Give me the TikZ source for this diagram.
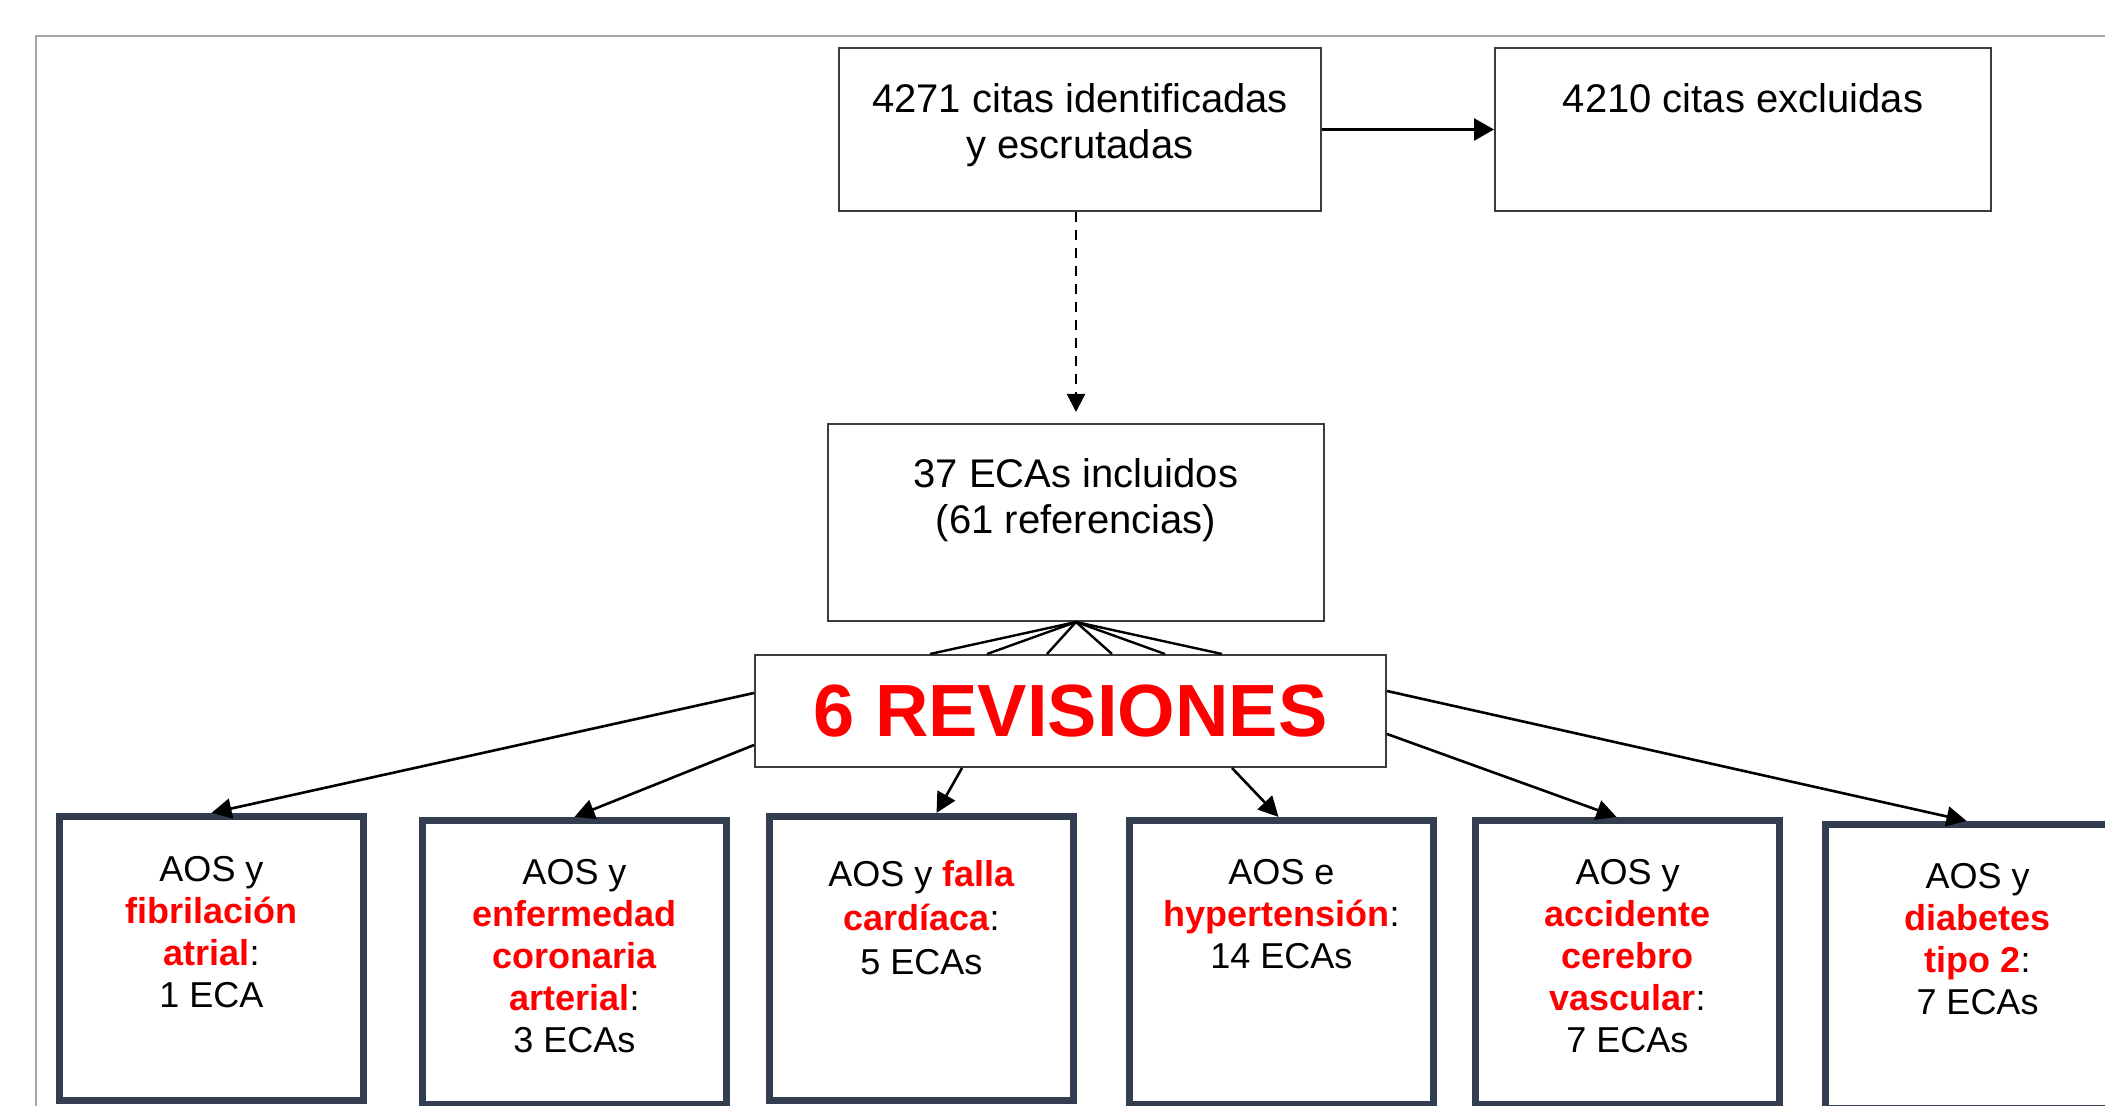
\documentclass[tikz,border=0pt]{standalone}
\usepackage{fontspec}
\setmainfont{Liberation Sans}
\usetikzlibrary{arrows.meta,calc}
\definecolor{framegray}{RGB}{166,166,166}
\definecolor{boxgray}{RGB}{60,60,60}
\definecolor{slate}{RGB}{50,62,79}
\definecolor{redtxt}{RGB}{255,0,0}
\newcommand\redb[1]{\textbf{\color{redtxt}#1}}
\begin{document}
\begin{tikzpicture}[x=0.5pt,y=-0.5pt,
  thinbox/.style={draw=boxgray, line width=1pt, inner sep=0pt, fill=white},
  catbox/.style={draw=slate, line width=3.6pt, minimum width=152pt, minimum height=142pt, inner sep=0pt},
  toptxt/.style={font=\fontsize{20}{23}\selectfont, align=center, inner sep=0pt, anchor=north},
  cattxt/.style={font=\fontsize{18}{21}\selectfont, align=center, inner sep=0pt, anchor=north},
  arr/.style={line width=1.3pt, -{Triangle[length=10pt,width=10pt]}},
  toparr/.style={line width=1.4pt, -{Triangle[length=10pt,width=11pt]}},
  dasharr/.style={line width=1.1pt, dash pattern=on 5pt off 4pt, -{Triangle[length=9pt,width=9pt]}},
  fan/.style={line width=1.2pt}]
\useasboundingbox (0,0) rectangle (2105,1106);
\draw[framegray, line width=0.8pt] (36,1106) -- (36,36) -- (2105,36);

% top boxes
\node[thinbox, minimum width=241pt, minimum height=81.5pt] (A) at (1080,129.5) {};
\node[thinbox, minimum width=248pt, minimum height=81.5pt] (B) at (1743,129.5) {};
\node[thinbox, minimum width=248pt, minimum height=98.5pt] (C) at (1076,522.5) {};
\node[toptxt] (tA) at ($(A.north)+(0,33)$) {\strut 4271 citas identificadas\\y escrutadas};
\node[toptxt] (tB) at ($(B.north)+(0,33)$) {\strut 4210 citas excluidas};
\node[toptxt] (tC) at ($(C.north)+(0,32)$) {\strut 37 ECAs incluidos\\(61 referencias)};

\draw[toparr] (A.east) -- (B.west);
\draw[dasharr] (A.south -| C.north) -- ($(C.north)+(0,-11)$);

% revisions box
\node[thinbox, minimum width=315.5pt, minimum height=56pt,
  font=\bfseries\fontsize{37}{40}\selectfont, text=redtxt] (D) at (1070.5,711) {6 REVISIONES};

\foreach \dx in {176,233,293,358,411,468}
  \draw[fan] (C.south) -- ($(D.north west)+(\dx,0)$);

% category boxes
\node[catbox] (b1) at (211.5,958.5) {};
\node[catbox] (b2) at (574.5,962.5) {};
\node[catbox] (b3) at (921.5,958.5) {};
\node[catbox] (b4) at (1281.5,962.5) {};
\node[catbox] (b5) at (1627.5,962.5) {};
\node[catbox] (b6) at (1977.5,966.5) {};

\node[cattxt] (t1) at ($(b1.north)+(0,39)$) {\strut AOS y\\\redb{fibrilación}\\\redb{atrial}:\\1 ECA};
\node[cattxt] (t2) at ($(b2.north)+(0,38)$) {\strut AOS y\\\redb{enfermedad}\\\redb{coronaria}\\\redb{arterial}:\\3 ECAs};
\node[cattxt, font=\fontsize{18}{22}\selectfont] (t3) at ($(b3.north)+(0,42)$) {\strut AOS y \redb{falla}\\\redb{cardíaca}:\\5 ECAs};
\node[cattxt] (t4) at ($(b4.north)+(0,38)$) {\strut AOS e\\\redb{hypertensión}:\\14 ECAs};
\node[cattxt] (t5) at ($(b5.north)+(0,38)$) {\strut AOS y\\\redb{accidente}\\\redb{cerebro}\\\redb{vascular}:\\7 ECAs};
\node[cattxt] (t6) at ($(b6.north)+(0,38)$) {\strut AOS y\\\redb{diabetes}\\\redb{tipo 2}:\\7 ECAs};

\draw[arr] ($(D.west)+(0,-18)$) -- (b1.north);
\draw[arr] ($(D.west)+(0,34)$) -- (b2.north);
\draw[arr] ($(D.south west)+(208,0)$) -- ($(b3.north)+(15,0)$);
\draw[arr] ($(D.south west)+(478,0)$) -- ($(b4.north)+(-3,0)$);
\draw[arr] ($(D.east)+(0,23)$) -- ($(b5.north)+(-11,0)$);
\draw[arr] ($(D.east)+(0,-20)$) -- ($(b6.north)+(-11,0)$);
\end{tikzpicture}
\end{document}
